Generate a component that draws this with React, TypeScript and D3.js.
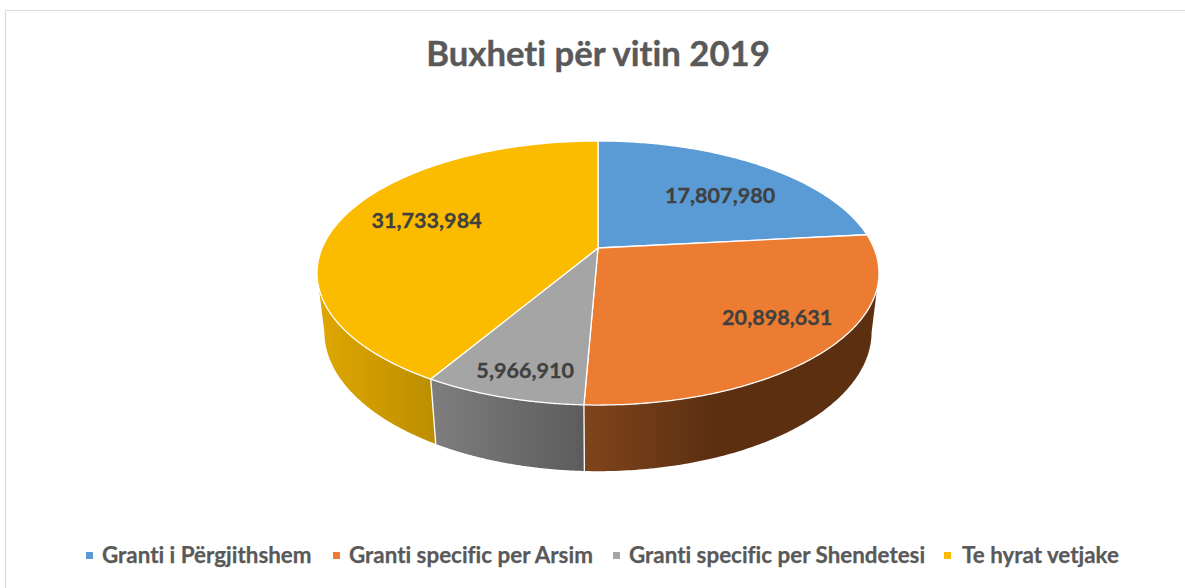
import { useEffect, useRef } from "react";
import * as d3 from "d3";

const categories = [
  "Granti i Përgjithshem",
  "Granti specific per Arsim",
  "Granti specific per Shendetesi",
  "Te hyrat vetjake",
];
const values = [17807980, 20898631, 5966910, 31733984];
const topColors = ["#5b9bd5", "#eb7c31", "#a5a5a5", "#fbbc00"];
const wallStart = ["#3b6a96", "#7f441c", "#7e7e7e", "#dfa700"];
const wallEnd = ["#2f5578", "#5c2f11", "#5c5c5c", "#bd8f00"];
const legendX = [86, 333, 613, 944];
const labelNudge = [
  [-3, 12],
  [12, -3],
  [-5, 16],
  [21, -3],
];

const width = 1185;
const height = 588;
const cx = 598;
const cy = 248;

// perspective of the tilted disc, worked out from the ellipse and the slice apex
const persp = 0.1894;
const scaleX = 275.9;
const scaleY = 127.3;
const depthY = 59.4;
const depthW = 0.026;

// the walls only show between the two silhouette angles
const sideRight = Math.PI / 2 + Math.asin(persp);
const sideLeft = (3 * Math.PI) / 2 - Math.asin(persp);

const project = (angle: number, r: number, h = 0): [number, number] => {
  const u = Math.sin(angle) * r;
  const v = -Math.cos(angle) * r;
  const w = 1 - persp * v + depthW * h;
  return [cx + (scaleX * u) / w, cy + (scaleY * v + depthY * h) / w];
};

const App = () => {
  const svgRef = useRef<SVGSVGElement>(null);

  useEffect(() => {
    const svg = d3.select(svgRef.current);
    svg.selectAll("*").remove();

    // Chart frame, only its top and left edges are in the picture
    svg
      .append("rect")
      .attr("x", 5.5)
      .attr("y", 10.5)
      .attr("width", width + 20)
      .attr("height", height + 20)
      .attr("fill", "#fff")
      .attr("stroke", "#dcdcdc")
      .attr("stroke-width", 1.3);

    const arcs = d3.pie<number>().sort(null)(values);
    const line = d3.line();
    const sample = (a0: number, a1: number, r: number, h: number) =>
      d3.range(0, 121).map((i) => project(a0 + ((a1 - a0) * i) / 120, r, h));

    const defs = svg.append("defs");
    arcs.forEach((d, i) => {
      const a0 = Math.max(d.startAngle, sideRight);
      const a1 = Math.min(d.endAngle, sideLeft);
      if (a1 <= a0) return;

      const xs = d3.extent(sample(a0, a1, 1, 0), (p) => p[0]) as [number, number];
      // the orange wall darkens fast and then stays flat
      const grad = defs
        .append("linearGradient")
        .attr("id", `wall${i}`)
        .attr("gradientUnits", "userSpaceOnUse")
        .attr("x1", xs[0])
        .attr("x2", i === 1 ? xs[0] + 130 : xs[1])
        .attr("y1", 0)
        .attr("y2", 0);
      grad.append("stop").attr("offset", 0).attr("stop-color", wallStart[i]);
      grad.append("stop").attr("offset", 1).attr("stop-color", wallEnd[i]);

      // Side wall, the top face is drawn over its upper edge
      const top = sample(a0, a1, 1, 0);
      const bottom = sample(a0, a1, 1, 1).reverse();
      svg
        .append("path")
        .attr("d", line([...top, ...bottom]) + "Z")
        .attr("fill", `url(#wall${i})`);
    });

    // White seams between the walls
    arcs.forEach((d) => {
      if (d.startAngle < sideRight || d.startAngle > sideLeft) return;
      svg
        .append("path")
        .attr("d", line([project(d.startAngle, 1, 0), project(d.startAngle, 1, 1)]))
        .attr("stroke", "#fff")
        .attr("stroke-width", 1.3)
        .attr("fill", "none");
    });

    // Top face
    arcs.forEach((d, i) => {
      const rim = sample(d.startAngle, d.endAngle, 1, 0);
      svg
        .append("path")
        .attr("d", line([[cx, cy], ...rim]) + "Z")
        .attr("fill", topColors[i])
        .attr("stroke", "#fff")
        .attr("stroke-width", 1.3)
        .attr("stroke-linejoin", "round");
    });

    // Value labels
    arcs.forEach((d, i) => {
      const [x, y] = project((d.startAngle + d.endAngle) / 2, 0.75);
      svg
        .append("text")
        .attr("x", x + labelNudge[i][0])
        .attr("y", y + labelNudge[i][1])
        .attr("dy", "0.35em")
        .attr("text-anchor", "middle")
        .style("font-family", "Lato, sans-serif")
        .style("font-weight", 700)
        .style("font-size", "21.6px")
        .style("fill", "#404040")
        .style("stroke", "#404040")
        .style("stroke-width", 0.3)
        .text(d3.format(",")(d.value));
    });

    // Title
    svg
      .append("text")
      .attr("x", 598)
      .attr("y", 66)
      .attr("text-anchor", "middle")
      .style("font-family", "Lato, sans-serif")
      .style("font-weight", 700)
      .style("font-size", "34.7px")
      .style("font-variant-ligatures", "none")
      .style("fill", "#595959")
      .style("stroke", "#595959")
      .style("stroke-width", 0.4)
      .text("Buxheti për vitin 2019");

    // Legend
    categories.forEach((name, i) => {
      svg
        .append("rect")
        .attr("x", legendX[i])
        .attr("y", 552)
        .attr("width", 7)
        .attr("height", 7)
        .attr("fill", topColors[i]);
      svg
        .append("text")
        .attr("x", legendX[i] + (i === 3 ? 18 : 16))
        .attr("y", 563)
        .style("font-family", "Lato, sans-serif")
        .style("font-weight", 700)
        .style("font-size", "22.4px")
        .style("font-variant-ligatures", "none")
        .style("fill", "#595959")
        .style("stroke", "#595959")
        .style("stroke-width", 0.25)
        .text(name);
    });
  }, []);

  return (
    <svg
      ref={svgRef}
      width={width}
      height={height}
      style={{ position: "absolute", left: 0, top: 0, background: "#fff" }}
    ></svg>
  );
};

export default App;
